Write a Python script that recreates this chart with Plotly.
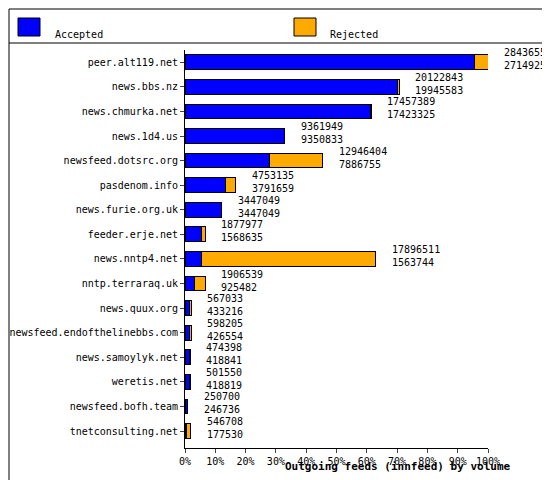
import plotly.graph_objects as go

feeds = ["peer.alt119.net", "news.bbs.nz", "news.chmurka.net", "news.1d4.us",
         "newsfeed.dotsrc.org", "pasdenom.info", "news.furie.org.uk", "feeder.erje.net",
         "news.nntp4.net", "nntp.terraraq.uk", "news.quux.org", "newsfeed.endofthelinebbs.com",
         "news.samoylyk.net", "weretis.net", "newsfeed.bofh.team", "tnetconsulting.net"]
offered = [28436557, 20122843, 17457389, 9361949, 12946404, 4753135, 3447049, 1877977,
           17896511, 1906539, 567033, 598205, 474398, 501550, 250700, 546708]
accepted = [27149254, 19945583, 17423325, 9350833, 7886755, 3791659, 3447049, 1568635,
            1563744, 925482, 433216, 426554, 418841, 418819, 246736, 177530]

W, H = 550, 480
L, R, T, B = 177, 70, 42, 40
pw, ph = W - L - R, H - T - B

def px(x):
    return (x - L) / pw

def py(y):
    return (H - B - y) / ph

top = max(offered)
acc_pct = [a / top * 100 for a in accepted]
rej_pct = [(o - a) / top * 100 for o, a in zip(offered, accepted)]
tot_pct = [o / top * 100 for o in offered]

fig = go.Figure()
fig.add_trace(go.Bar(y=feeds, x=acc_pct, orientation="h", name="Accepted",
                     marker=dict(color="#0000ff", line=dict(color="#000", width=1)), width=0.6))
fig.add_trace(go.Bar(y=feeds, x=rej_pct, orientation="h", name="Rejected",
                     marker=dict(color="#ffaa00", line=dict(color="#000", width=1)), width=0.6))

for f, t, o, a in zip(feeds, tot_pct, offered, accepted):
    fig.add_annotation(x=t, y=f, text=f"{o}<br>{a}", showarrow=False, xanchor="left",
                       xshift=14, yshift=3, align="left",
                       font=dict(size=10, family="DejaVu Sans Mono", color="#000"))

shapes = [
    dict(type="rect", xref="paper", yref="paper", x0=px(1), x1=px(549), y0=py(479), y1=py(1),
         line=dict(color="#000", width=1)),
    dict(type="line", xref="paper", yref="paper", x0=px(1), x1=px(549), y0=py(35), y1=py(35),
         line=dict(color="#000", width=1)),
    dict(type="rect", xref="paper", yref="paper", x0=px(10), x1=px(32), y0=py(28), y1=py(10),
         fillcolor="#0000ff", line=dict(color="#000", width=1)),
    dict(type="rect", xref="paper", yref="paper", x0=px(286), x1=px(308), y0=py(28), y1=py(10),
         fillcolor="#ffaa00", line=dict(color="#000", width=1)),
]
fig.add_annotation(xref="paper", yref="paper", x=px(45), y=py(19), text="Accepted",
                   showarrow=False, xanchor="left", font=dict(size=10, family="DejaVu Sans Mono"))
fig.add_annotation(xref="paper", yref="paper", x=px(320), y=py(19), text="Rejected",
                   showarrow=False, xanchor="left", font=dict(size=10, family="DejaVu Sans Mono"))
fig.add_annotation(xref="paper", yref="paper", x=px(275), y=py(467), text="<b>Outgoing feeds (innfeed) by volume</b>",
                   showarrow=False, font=dict(size=11, family="DejaVu Sans Mono"))

fig.update_layout(
    width=W, height=H, margin=dict(l=L, r=R, t=T, b=B, autoexpand=False), barmode="stack",
    showlegend=False, plot_bgcolor="#fff", paper_bgcolor="#fff", shapes=shapes,
    font=dict(family="DejaVu Sans Mono", size=10, color="#000"),
    bargap=0.4,
)
fig.update_xaxes(range=[0, 100], tickvals=list(range(0, 101, 10)),
                 ticktext=[f"{v}%" for v in range(0, 101, 10)], showgrid=False,
                 showline=True, linecolor="#000", ticks="outside", ticklen=4,
                 tickfont=dict(size=10), automargin=False)
fig.update_yaxes(autorange="reversed", showline=True, linecolor="#000", ticks="outside",
                 ticklen=4, showgrid=False, tickfont=dict(size=10), automargin=False)

fig.write_html("out.html")
